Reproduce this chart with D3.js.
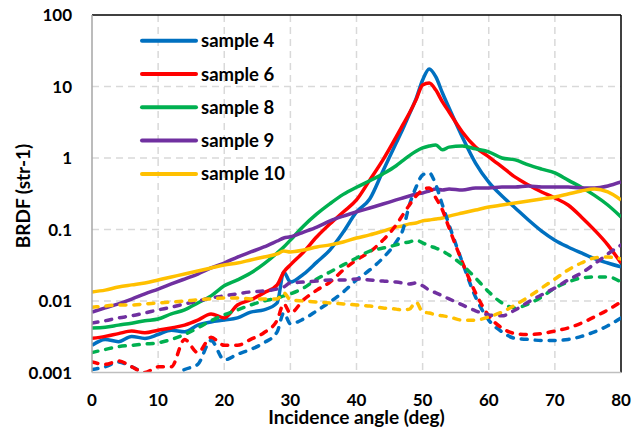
<!DOCTYPE html>
<html>
<head>
<meta charset="utf-8">
<script src="https://cdn.jsdelivr.net/npm/d3@7"></script>
<style>
  body { margin: 0; background: #fff; }
  text { font-family: Lato, "Open Sans", sans-serif; font-weight: bold; fill: #000; }
</style>
</head>
<body>
<svg id="brdf-chart" width="641" height="430"></svg>
<script>
let svg = d3.select("body").select("#brdf-chart")

let width = 641
let height = 430

// incidence angles (deg), shared by every series
let angles = [0,2,4,6,8,10,12,14,16,18,20,22,24,26,28,29,30,32,34,36,38,40,42,44,46,47,48,49,50,51,52,53,54,56,58,60,62,64,66,68,70,72,74,76,78,80]

// solid lines
let sample4 = [0.0024,0.0029,0.0027,0.0032,0.0030,0.0034,0.0039,0.0037,0.0046,0.0051,0.0054,0.0058,0.0070,0.0075,0.0094,0.0255,0.0184,0.0238,0.035,0.052,0.092,0.176,0.267,0.66,1.62,2.55,4.13,6.7,12.3,17.6,13.6,8.1,5.0,1.97,0.85,0.46,0.294,0.2,0.136,0.095,0.071,0.057,0.047,0.039,0.034,0.030]
let sample6 = [0.0030,0.0032,0.0035,0.0038,0.0036,0.0039,0.0042,0.0046,0.0054,0.0066,0.0058,0.0088,0.0104,0.013,0.0168,0.0255,0.032,0.0485,0.079,0.12,0.176,0.259,0.49,0.94,1.97,2.9,4.26,6.5,10.5,11.2,8.9,6.1,4.4,2.31,1.42,1.04,0.75,0.54,0.42,0.335,0.276,0.22,0.15,0.098,0.061,0.034]
let sample8 = [0.0042,0.0043,0.0046,0.0049,0.0053,0.0056,0.0066,0.0075,0.0094,0.0118,0.0163,0.0197,0.0246,0.033,0.047,0.057,0.071,0.112,0.165,0.23,0.31,0.39,0.48,0.6,0.78,0.92,1.08,1.24,1.38,1.47,1.52,1.3,1.42,1.47,1.34,1.22,1.0,0.94,0.8,0.7,0.62,0.49,0.39,0.3,0.22,0.15]
let sample9 = [0.0070,0.0080,0.0091,0.0106,0.0126,0.0147,0.0173,0.0203,0.0238,0.029,0.034,0.0412,0.0485,0.057,0.069,0.076,0.079,0.092,0.108,0.132,0.154,0.176,0.2,0.227,0.259,0.276,0.294,0.314,0.324,0.346,0.369,0.357,0.369,0.357,0.381,0.381,0.393,0.393,0.406,0.393,0.393,0.393,0.381,0.381,0.406,0.462]
let sample10 = [0.0134,0.0142,0.0157,0.0168,0.0179,0.0197,0.0217,0.0238,0.0263,0.029,0.0319,0.034,0.0375,0.0412,0.0455,0.05,0.0485,0.0517,0.057,0.061,0.067,0.076,0.084,0.095,0.108,0.112,0.12,0.123,0.132,0.136,0.14,0.145,0.154,0.17,0.187,0.206,0.22,0.235,0.25,0.267,0.285,0.314,0.346,0.369,0.335,0.259]

// dashed lines
let sample4Dash = [0.0011,0.0012,0.0014,0.0012,0.00098,0.00089,0.00086,0.0011,0.0013,0.0028,0.0015,0.0018,0.0021,0.0026,0.0037,0.0068,0.0048,0.0056,0.0073,0.0097,0.0134,0.0197,0.0272,0.040,0.067,0.098,0.22,0.39,0.58,0.62,0.42,0.22,0.116,0.035,0.0114,0.0054,0.0037,0.0030,0.0029,0.0028,0.0028,0.0029,0.0032,0.0037,0.0045,0.0058]
let sample6Dash = [0.0014,0.0013,0.00145,0.0012,0.0010,0.0012,0.0012,0.0029,0.0019,0.0031,0.0024,0.0024,0.0029,0.0036,0.0054,0.0091,0.0068,0.0104,0.0142,0.0184,0.0272,0.0375,0.0485,0.071,0.116,0.16,0.22,0.294,0.357,0.381,0.276,0.187,0.105,0.035,0.013,0.0062,0.0042,0.0035,0.0034,0.0035,0.0038,0.0042,0.0049,0.006,0.0075,0.0097]
let sample8Dash = [0.0019,0.0021,0.0023,0.0024,0.0025,0.0026,0.0029,0.0034,0.0042,0.0053,0.0064,0.0075,0.0088,0.0100,0.0110,0.0118,0.0126,0.0152,0.0203,0.0255,0.032,0.040,0.050,0.055,0.061,0.065,0.067,0.071,0.065,0.059,0.055,0.050,0.044,0.032,0.021,0.0134,0.0094,0.0080,0.0091,0.0114,0.0152,0.0184,0.021,0.0217,0.0217,0.0184]
let sample9Dash = [0.0049,0.0053,0.0058,0.0062,0.0068,0.0075,0.0082,0.0091,0.0100,0.0110,0.0118,0.0126,0.0134,0.0138,0.0147,0.0157,0.0179,0.0184,0.019,0.0197,0.0197,0.0203,0.0197,0.019,0.0184,0.0179,0.0173,0.0179,0.0163,0.0142,0.013,0.0118,0.0107,0.0088,0.0073,0.0064,0.0062,0.0075,0.0097,0.0122,0.0152,0.0197,0.0246,0.033,0.0455,0.0607]
let sample10Dash = [0.0082,0.0085,0.0088,0.0088,0.0091,0.0094,0.0097,0.0100,0.0104,0.0107,0.011,0.011,0.0107,0.0107,0.0107,0.013,0.0104,0.0100,0.0097,0.0094,0.0091,0.0088,0.0085,0.0080,0.0077,0.0075,0.0077,0.0097,0.0070,0.0068,0.0064,0.0062,0.0060,0.0054,0.0054,0.0060,0.0070,0.0088,0.0114,0.0152,0.0203,0.0272,0.034,0.040,0.0412,0.0387]

let legendNames = ["sample 4", "sample 6", "sample 8", "sample 9", "sample 10"]
let colors = ["#0070C0", "#FF0000", "#00B050", "#7030A0", "#FFC000"]

let xTicks = [0, 10, 20, 30, 40, 50, 60, 70, 80]
let yTicks = [0.001, 0.01, 0.1, 1, 10, 100]
let yTickLabels = ["0.001", "0.01", "0.1", "1", "10", "100"]

let margin = { top: 15, right: 20, bottom: 57.5, left: 92 }

let x = d3.scaleLinear()
    .domain([0, 80])
    .range([margin.left, width - margin.right])

let y = d3.scaleLog()
    .domain([0.001, 100])
    .range([height - margin.bottom, margin.top])

svg.append("rect")
    .attr("width", width)
    .attr("height", height)
    .attr("fill", "#fff")

// gridlines
let grid = svg.append("g")
    .attr("stroke", "#D9D9D9")
    .attr("stroke-width", 1.5)
    .attr("stroke-dasharray", "7,5")

grid.selectAll(".vgrid")
    .data(xTicks.slice(1, -1))
    .join("line")
    .attr("class", "vgrid")
    .attr("x1", d => x(d))
    .attr("x2", d => x(d))
    .attr("y1", y(100))
    .attr("y2", y(0.001))

grid.selectAll(".hgrid")
    .data(yTicks.slice(1, -1))
    .join("line")
    .attr("class", "hgrid")
    .attr("x1", x(0))
    .attr("x2", x(80))
    .attr("y1", d => y(d))
    .attr("y2", d => y(d))

// plot area border (top/right black), axis lines (left/bottom grey)
svg.append("line")
    .attr("x1", x(0)).attr("x2", x(80))
    .attr("y1", y(100)).attr("y2", y(100))
    .attr("stroke", "#000").attr("stroke-width", 1.5)

svg.append("line")
    .attr("x1", x(80)).attr("x2", x(80))
    .attr("y1", y(100)).attr("y2", y(0.001))
    .attr("stroke", "#000").attr("stroke-width", 1.5)

// data lines
svg.append("clipPath")
    .attr("id", "plot-clip")
    .append("rect")
    .attr("x", x(0))
    .attr("y", y(100))
    .attr("width", x(80) - x(0))
    .attr("height", y(0.001) - y(100))

let line = d3.line()
    .x((d, i) => x(angles[i]))
    .y(d => y(d))
    .curve(d3.curveMonotoneX)

let solidSeries = [sample4, sample6, sample8, sample9, sample10]
let dashSeries = [sample4Dash, sample6Dash, sample8Dash, sample9Dash, sample10Dash]

let lines = svg.append("g")
    .attr("clip-path", "url(#plot-clip)")
    .attr("fill", "none")
    .attr("stroke-width", 3.5)
    .attr("stroke-linejoin", "round")

lines.selectAll(".solid")
    .data(solidSeries)
    .join("path")
    .attr("class", "solid")
    .attr("stroke", (d, i) => colors[i])
    .attr("d", line)

lines.selectAll(".dash")
    .data(dashSeries)
    .join("path")
    .attr("class", "dash")
    .attr("stroke", (d, i) => colors[i])
    .attr("stroke-dasharray", "6,8")
    .attr("stroke-linecap", "round")
    .attr("d", line)

svg.append("line")
    .attr("x1", x(0)).attr("x2", x(0))
    .attr("y1", y(100)).attr("y2", y(0.001))
    .attr("stroke", "#A6A6A6").attr("stroke-width", 1.5)

svg.append("line")
    .attr("x1", x(0)).attr("x2", x(80))
    .attr("y1", y(0.001)).attr("y2", y(0.001))
    .attr("stroke", "#BFBFBF").attr("stroke-width", 1.5)

// tick labels
svg.append("g")
    .selectAll("text")
    .data(xTicks)
    .join("text")
    .attr("x", d => x(d))
    .attr("y", 406)
    .attr("text-anchor", "middle")
    .style("font-size", "17px")
    .text(d => d)

svg.append("g")
    .selectAll("text")
    .data(yTicks)
    .join("text")
    .attr("x", 72)
    .attr("y", d => y(d) + 6)
    .attr("text-anchor", "end")
    .style("font-size", "17px")
    .text((d, i) => yTickLabels[i])

// axis titles
svg.append("text")
    .attr("x", (x(0) + x(80)) / 2)
    .attr("y", 424)
    .attr("text-anchor", "middle")
    .style("font-size", "19px")
    .text("Incidence angle (deg)")

svg.append("text")
    .attr("transform", "translate(30,196) rotate(-90)")
    .attr("text-anchor", "middle")
    .style("font-size", "19px")
    .text("BRDF (str-1)")

// legend
let legend = svg.append("g")
    .selectAll("g")
    .data(legendNames)
    .join("g")
    .attr("transform", (d, i) => `translate(142,${40.7 + i * 33.3})`)

legend.append("line")
    .attr("x1", 0)
    .attr("x2", 54)
    .attr("stroke", (d, i) => colors[i])
    .attr("stroke-width", 4)
    .attr("stroke-linecap", "round")

legend.append("text")
    .attr("x", 59)
    .attr("y", 6.5)
    .style("font-size", "18.5px")
    .text(d => d)
</script>
</body>
</html>
